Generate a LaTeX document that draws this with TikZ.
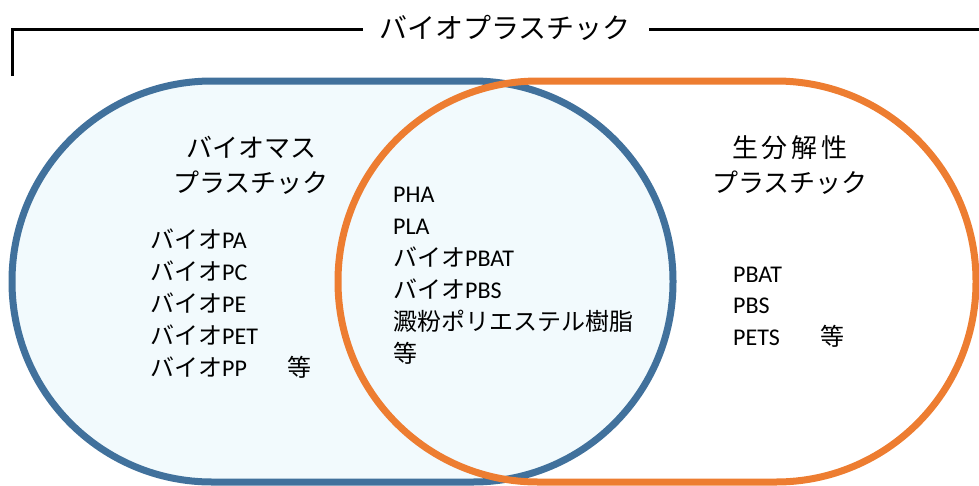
\documentclass[tikz,border=0pt]{standalone}
\usepackage{fontspec}
\setmainfont{Carlito}
\newfontfamily\jp{Noto Sans CJK JP}
\definecolor{bioblue}{HTML}{41719C}
\definecolor{bioorange}{HTML}{ED7D31}
\definecolor{biofill}{HTML}{F2FAFD}
\tikzset{
  item/.style={anchor=base west, inner sep=0pt, font=\fontsize{24}{28}\selectfont},
  head/.style={anchor=base, inner sep=0pt, font=\jp\fontsize{26}{30}\selectfont},
  ring/.style={line width=7pt, rounded corners=200pt},
}
\begin{document}
\begin{tikzpicture}[x=1pt,y=-1pt]
\useasboundingbox (0,0) rectangle (979,485);
% sets
\draw[ring, bioblue, fill=biofill] (12,81) rectangle (673,482);
\draw[ring, bioorange] (338,81) rectangle (976,482);
% title bracket
\node[anchor=base, inner sep=0pt, font=\jp\fontsize{28}{32}\selectfont] (title) at (505,38) {バイオプラスチック};
\coordinate (cl) at (12,76);
\draw[line width=3pt] (cl) -- (12,29) -- (363,29);
\draw[line width=3pt] (649,29) -- (979,29);
% left heading
\node[head] (bm1) at (251,157) {バイオマス};
\node[head] (bm2) at (251,192) {プラスチック};
% right heading
\node[head] (bd1) at (790,157) {生\hspace{4pt}分\hspace{4pt}解\hspace{4pt}性};
\node[head] (bd2) at (790,192) {プラスチック};
% left list
\node[item] (l1) at (150,248) {{\jp バイオ}PA};
\node[item] (l2) at (150,280) {{\jp バイオ}PC};
\node[item] (l3) at (150,312) {{\jp バイオ}PE};
\node[item] (l4) at (150,344) {{\jp バイオ}PET};
\node[item] (l5) at (150,376) {{\jp バイオ}PP};
\node[item] (l6) at (287,376) {\jp 等};
% middle list
\node[item] (m1) at (393,202) {PHA};
\node[item] (m2) at (393,234) {PLA};
\node[item] (m3) at (393,266) {{\jp バイオ}PBAT};
\node[item] (m4) at (393,298) {{\jp バイオ}PBS};
\node[item] (m5) at (393,330) {\jp 澱粉ポリエステル樹脂};
\node[item] (m6) at (393,362) {\jp 等};
% right list
\node[item] (r1) at (733,282) {PBAT};
\node[item] (r2) at (733,313) {PBS};
\node[item] (r3) at (733,345) {PETS};
\node[item] (r4) at (820,345) {\jp 等};
\end{tikzpicture}
\end{document}
